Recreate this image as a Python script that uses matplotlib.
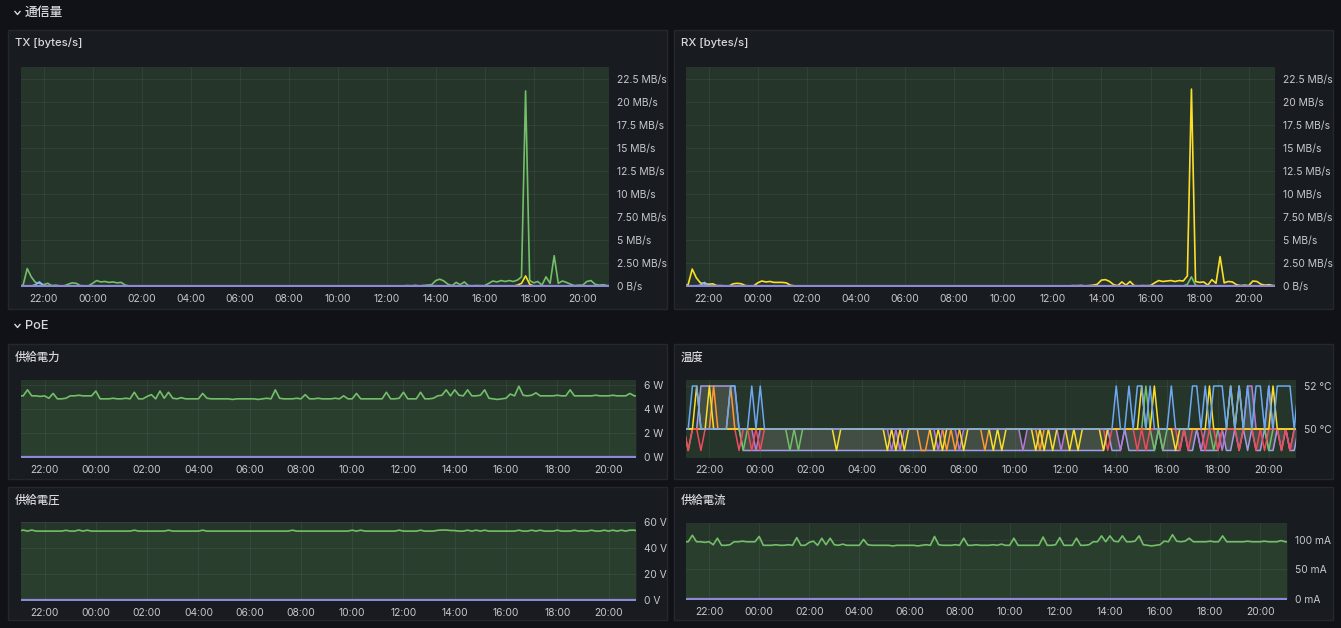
import numpy as np
import matplotlib
matplotlib.use("Agg")
import matplotlib.pyplot as plt
from matplotlib.patches import Rectangle
from matplotlib.lines import Line2D

W, H = 1341, 628
plt.rcParams['font.family'] = ['Inter', 'Noto Sans CJK JP', 'DejaVu Sans']

# ---------------- data (10-minute samples from 21:00 to 21:10 next day) ----------------
hours = 21 + np.arange(146) / 6.0
tick_hours = [22, 24, 26, 28, 30, 32, 34, 36, 38, 40, 42, 44]
tick_labels = ["22:00", "00:00", "02:00", "04:00", "06:00", "08:00",
               "10:00", "12:00", "14:00", "16:00", "18:00", "20:00"]

# TX [MB/s]
tx_green = [0.0, 0.1, 1.9, 1.0, 0.4, 0.3, 0.15, 0.3, 0.05, 0.1, 0.02, 0.02,
            0.2, 0.35, 0.3, 0.05, 0.02, 0.02, 0.3, 0.6, 0.45, 0.5, 0.4, 0.45,
            0.35, 0.4, 0.1, 0.02, 0.01, 0.01, 0.01, 0.01, 0.01, 0.01, 0.01, 0.01,
            0.01, 0.01, 0.01, 0.01, 0.01, 0.01, 0.01, 0.01, 0.01, 0.01, 0.01, 0.01,
            0.01, 0.01, 0.01, 0.01, 0.01, 0.01, 0.01, 0.01, 0.01, 0.01, 0.01, 0.01,
            0.01, 0.01, 0.01, 0.01, 0.01, 0.01, 0.01, 0.01, 0.01, 0.01, 0.01, 0.01,
            0.01, 0.01, 0.01, 0.01, 0.01, 0.01, 0.01, 0.01, 0.01, 0.01, 0.01, 0.01,
            0.01, 0.01, 0.01, 0.01, 0.01, 0.01, 0.01, 0.01, 0.01, 0.01, 0.01, 0.06,
            0.03, 0.08, 0.02, 0.06, 0.1, 0.15, 0.6, 0.75, 0.55, 0.2, 0.05, 0.4,
            0.15, 0.45, 0.05, 0.03, 0.06, 0.04, 0.05, 0.3, 0.55, 0.45, 0.6, 0.5,
            0.6, 0.5, 0.65, 1.0, 21.2, 0.6, 0.35, 0.5, 0.1, 1.0, 0.3, 3.3,
            0.3, 0.55, 0.4, 0.2, 0.05, 0.1, 0.1, 0.5, 0.6, 0.2, 0.1, 0.15,
            0.05, 0.05]
tx_yellow_spike = {122: 0.1, 123: 0.3, 124: 1.1, 125: 0.2}
tx_blue_spike = {4: 0.15, 5: 0.45, 6: 0.05}

# RX [MB/s]
rx_yellow = [0.0, 0.15, 1.85, 0.9, 0.35, 0.25, 0.2, 0.25, 0.05, 0.05, 0.02, 0.02,
             0.25, 0.3, 0.25, 0.05, 0.02, 0.02, 0.35, 0.55, 0.45, 0.5, 0.4, 0.4,
             0.4, 0.35, 0.1, 0.02, 0.01, 0.01, 0.01, 0.01, 0.01, 0.01, 0.01, 0.01,
             0.01, 0.01, 0.01, 0.01, 0.01, 0.01, 0.01, 0.01, 0.01, 0.01, 0.01, 0.01,
             0.01, 0.01, 0.01, 0.01, 0.01, 0.01, 0.01, 0.01, 0.01, 0.01, 0.01, 0.01,
             0.01, 0.01, 0.01, 0.01, 0.01, 0.01, 0.01, 0.01, 0.01, 0.01, 0.01, 0.01,
             0.01, 0.01, 0.01, 0.01, 0.01, 0.01, 0.01, 0.01, 0.01, 0.01, 0.01, 0.01,
             0.01, 0.01, 0.01, 0.01, 0.01, 0.01, 0.01, 0.01, 0.01, 0.01, 0.01, 0.05,
             0.04, 0.07, 0.02, 0.05, 0.1, 0.2, 0.65, 0.7, 0.5, 0.15, 0.05, 0.45,
             0.1, 0.5, 0.05, 0.03, 0.05, 0.04, 0.06, 0.35, 0.6, 0.5, 0.55, 0.6,
             0.5, 0.6, 0.55, 1.1, 21.4, 0.5, 0.4, 0.45, 0.1, 0.7, 0.3, 3.2,
             0.35, 0.5, 0.45, 0.15, 0.05, 0.1, 0.05, 0.55, 0.5, 0.2, 0.1, 0.15,
             0.05, 0.05]
rx_green_spike = {123: 0.2, 124: 1.0, 125: 0.1}
rx_blue_spike = {4: 0.1, 5: 0.4, 6: 0.05}

# 供給電力 [W]
power = [5.1, 5.1, 5.6, 5.1, 5.1, 5.05, 5.1, 4.9, 5.3, 4.85, 4.85, 4.9,
         5.1, 5.1, 5.15, 5.1, 5.1, 5.1, 5.5, 4.85, 4.85, 4.85, 4.9, 4.85,
         4.85, 4.9, 4.85, 5.4, 4.85, 4.85, 5.05, 5.2, 4.85, 5.5, 4.9, 5.4,
         4.9, 4.85, 4.95, 4.85, 4.85, 4.85, 4.85, 5.3, 4.9, 4.85, 4.85, 4.85,
         4.85, 4.85, 4.8, 4.85, 4.85, 4.85, 4.85, 4.85, 4.8, 4.85, 4.9, 4.85,
         5.6, 4.9, 4.85, 4.85, 4.85, 4.9, 4.85, 5.2, 4.85, 4.85, 4.9, 4.85,
         4.85, 4.85, 4.9, 4.85, 5.1, 4.85, 4.85, 5.3, 4.85, 4.85, 4.85, 4.85,
         4.85, 4.85, 5.4, 4.85, 4.85, 4.9, 5.4, 4.85, 4.85, 4.85, 5.4, 4.85,
         4.85, 4.9, 5.1, 5.15, 5.6, 5.1, 5.6, 5.15, 5.1, 5.6, 5.1, 5.1,
         5.15, 5.6, 4.9, 4.85, 4.8, 4.85, 4.9, 5.25, 5.1, 5.9, 5.15, 5.1,
         5.15, 5.35, 5.1, 5.1, 5.1, 5.1, 5.15, 5.1, 5.1, 5.6, 5.1, 5.1,
         5.1, 5.1, 5.1, 5.15, 5.1, 5.1, 5.1, 5.15, 5.1, 5.1, 5.1, 5.3,
         5.1, 5.1]

# 供給電圧 [V]
voltage = [53, 53.8, 53, 53.8, 53, 53, 53, 53, 53, 53, 53, 53.6,
           53, 53, 53.8, 53, 53.7, 53, 53, 53, 53, 53, 53, 53,
           53, 53, 53, 53.7, 53, 53, 53, 53, 53, 53, 53, 53.7,
           53, 53, 53, 53, 53, 53, 53, 53.7, 53, 53, 53, 53,
           53, 53, 53, 53, 53, 53, 53, 53, 53, 53, 53, 53,
           53, 53, 53, 53, 53.7, 53, 53, 53, 53, 53, 53, 53,
           53, 53, 53, 53, 53, 53, 53.7, 53, 53.7, 53, 53, 53,
           53, 53, 53, 53, 53, 53.7, 53, 53, 53, 53, 53.7, 53,
           53, 53, 53.6, 53.8, 53.8, 53.5, 53.4, 53, 53, 53.7, 53, 53.7,
           53, 53.7, 53, 53, 53, 53, 53, 53, 53, 53.7, 53, 53,
           53.7, 53, 53.7, 53, 53, 53, 53.7, 53, 53, 53, 53.7, 53,
           53, 53, 53.7, 53, 53, 53.7, 53, 53.7, 53, 53.7, 53, 53.7,
           53.7, 53]

# 供給電流 [mA]
current = [97, 97, 108, 97, 97, 96, 97, 92, 103, 91, 91, 92,
           97, 97, 98, 97, 97, 97, 106, 91, 91, 91, 92, 91,
           91, 92, 91, 104, 91, 91, 96, 98, 91, 103, 92, 103,
           92, 91, 93, 91, 91, 91, 91, 101, 92, 91, 91, 91,
           91, 91, 90, 91, 91, 91, 91, 91, 90, 91, 92, 91,
           106, 92, 91, 91, 91, 92, 91, 103, 91, 91, 92, 91,
           91, 91, 92, 91, 93, 91, 91, 103, 91, 91, 91, 91,
           91, 91, 105, 91, 91, 92, 104, 91, 91, 91, 103, 91,
           91, 92, 97, 97, 107, 97, 107, 98, 97, 107, 97, 97,
           98, 107, 92, 91, 90, 91, 92, 98, 97, 109, 98, 97,
           98, 103, 97, 97, 97, 97, 98, 97, 97, 107, 97, 97,
           97, 97, 97, 98, 97, 97, 97, 98, 97, 97, 97, 99,
           97, 97]

# 温度 [°C]
temp_lavender = [50, 50, 50, 50, 52, 52, 52, 52, 52, 52, 52, 52,
                 52, 50, 49, 49, 49, 49, 49, 49, 49, 49, 49, 49,
                 49, 49, 49, 49, 49, 49, 49, 49, 49, 49, 49, 49,
                 49, 49, 49, 49, 49, 49, 49, 49, 49, 49, 49, 49,
                 49, 49, 49, 49, 49, 49, 49, 49, 49, 49, 49, 49,
                 49, 49, 49, 49, 49, 49, 49, 49, 49, 49, 49, 49,
                 49, 49, 49, 49, 49, 49, 49, 49, 49, 49, 49, 49,
                 49, 49, 49, 49, 49, 49, 49, 49, 49, 49, 49, 49,
                 49, 49, 49, 49, 50, 49, 49, 49, 50, 49, 49, 49,
                 49, 49, 49, 49, 50, 49, 49, 49, 49, 49, 50, 49,
                 49, 50, 49, 49, 49, 49, 49, 50, 49, 49, 50, 49,
                 50, 49, 50, 49, 49, 50, 49, 49, 50, 49, 50, 49,
                 49, 50]
temp_purple = [50, 50, 50, 50, 50, 50, 50, 50, 50, 50, 50, 50,
               50, 50, 50, 50, 50, 49, 50, 50, 50, 50, 50, 50,
               50, 50, 50, 50, 50, 50, 50, 50, 50, 50, 50, 50,
               50, 50, 50, 50, 50, 50, 50, 50, 50, 50, 50, 50,
               50, 49, 50, 49, 50, 50, 50, 50, 50, 50, 50, 50,
               49, 50, 50, 50, 50, 49, 50, 50, 50, 50, 50, 50,
               50, 50, 50, 50, 50, 50, 50, 50, 49, 50, 50, 50,
               50, 50, 50, 50, 50, 49, 50, 50, 50, 50, 50, 50,
               50, 50, 50, 50, 50, 50, 50, 49, 50, 50, 50, 50,
               50, 50, 50, 50, 50, 50, 50, 50, 50, 50, 50, 50,
               50, 50, 49, 50, 50, 50, 50, 49, 50, 50, 50, 50,
               50, 52, 52, 50, 50, 50, 52, 50, 50, 50, 50, 49,
               50, 50]
temp_green = [50, 49, 50, 50, 50, 50, 50, 50, 50, 50, 50, 50,
              50, 50, 49, 50, 50, 50, 50, 50, 50, 50, 50, 50,
              50, 49, 50, 49, 50, 50, 50, 50, 50, 50, 50, 50,
              50, 50, 50, 50, 50, 50, 50, 50, 50, 50, 50, 50,
              50, 50, 50, 50, 50, 50, 50, 50, 50, 50, 50, 50,
              50, 50, 50, 50, 50, 50, 50, 50, 50, 50, 50, 50,
              50, 50, 50, 50, 50, 50, 50, 50, 50, 50, 50, 50,
              50, 50, 50, 50, 50, 50, 50, 50, 50, 50, 50, 50,
              50, 50, 50, 50, 50, 50, 50, 50, 50, 50, 50, 50,
              50, 52, 50, 49, 50, 49, 50, 50, 50, 50, 50, 50,
              50, 50, 50, 50, 50, 49, 50, 50, 50, 50, 50, 50,
              50, 50, 50, 50, 50, 50, 49, 50, 50, 50, 50, 50,
              50, 50]
temp_orange = [50, 50, 50, 50, 50, 50, 50, 52, 50, 50, 50, 52,
               50, 50, 50, 50, 50, 50, 50, 50, 50, 50, 50, 50,
               50, 50, 50, 50, 50, 50, 50, 50, 50, 50, 50, 50,
               50, 50, 50, 50, 50, 50, 50, 50, 50, 50, 50, 50,
               50, 50, 50, 50, 50, 50, 50, 50, 49, 49, 50, 50,
               50, 50, 49, 50, 49, 50, 50, 50, 50, 50, 50, 49,
               50, 50, 50, 50, 50, 50, 50, 50, 50, 50, 50, 50,
               49, 50, 50, 50, 50, 50, 50, 50, 50, 50, 50, 50,
               50, 50, 50, 50, 50, 50, 50, 50, 50, 50, 50, 50,
               50, 50, 50, 50, 50, 50, 50, 50, 50, 50, 50, 50,
               50, 50, 50, 50, 50, 50, 50, 50, 50, 50, 50, 50,
               50, 50, 50, 50, 50, 50, 50, 50, 50, 50, 50, 50,
               50, 50]
temp_red = [50, 49, 50, 50, 49, 50, 50, 50, 50, 50, 50, 50,
            50, 49, 50, 50, 49, 50, 49, 50, 50, 50, 50, 50,
            50, 50, 50, 50, 50, 50, 50, 50, 50, 50, 50, 50,
            50, 50, 50, 50, 50, 50, 50, 50, 50, 50, 50, 50,
            50, 50, 50, 50, 50, 50, 50, 50, 50, 50, 50, 50,
            50, 50, 50, 50, 50, 50, 50, 50, 50, 50, 50, 50,
            50, 50, 50, 50, 50, 50, 50, 50, 50, 50, 50, 50,
            50, 50, 50, 50, 50, 50, 50, 50, 50, 50, 50, 50,
            50, 50, 50, 50, 49, 50, 50, 50, 50, 50, 50, 49,
            50, 49, 50, 50, 50, 50, 50, 50, 50, 49, 50, 49,
            50, 50, 50, 49, 50, 50, 49, 50, 50, 50, 50, 49,
            50, 50, 50, 49, 50, 49, 50, 50, 50, 49, 50, 49,
            50, 50]
temp_yellow = [50, 50, 50, 52, 50, 50, 52, 50, 50, 50, 50, 50,
               50, 50, 50, 50, 50, 50, 50, 50, 50, 50, 50, 50,
               50, 50, 50, 50, 50, 50, 50, 50, 50, 50, 50, 50,
               49, 50, 50, 50, 50, 50, 50, 50, 50, 50, 50, 50,
               49, 50, 49, 50, 49, 50, 50, 50, 50, 50, 50, 49,
               50, 49, 50, 50, 50, 50, 49, 50, 50, 50, 50, 50,
               50, 49, 50, 49, 50, 50, 50, 50, 50, 50, 50, 49,
               50, 49, 50, 49, 50, 50, 50, 49, 50, 49, 50, 50,
               50, 50, 50, 49, 50, 50, 50, 50, 50, 50, 50, 50,
               52, 50, 50, 52, 50, 50, 50, 50, 49, 50, 50, 50,
               50, 50, 50, 50, 52, 50, 50, 50, 50, 52, 50, 52,
               50, 50, 50, 50, 50, 50, 50, 52, 50, 50, 50, 50,
               50, 50]
temp_blue = [50, 50, 52, 52, 50, 50, 50, 50, 50, 50, 50, 52,
             52, 50, 50, 50, 52, 50, 52, 50, 50, 50, 50, 50,
             50, 50, 50, 50, 50, 50, 50, 50, 50, 50, 50, 50,
             50, 50, 50, 50, 50, 50, 50, 50, 50, 50, 50, 50,
             50, 50, 50, 50, 50, 50, 50, 50, 50, 50, 50, 50,
             50, 50, 50, 50, 50, 50, 50, 50, 50, 50, 50, 50,
             50, 50, 50, 50, 50, 50, 50, 50, 50, 50, 50, 50,
             50, 50, 50, 50, 50, 50, 50, 50, 50, 50, 50, 50,
             50, 50, 50, 50, 50, 50, 52, 50, 50, 52, 50, 52,
             52, 50, 52, 50, 50, 50, 50, 52, 50, 50, 50, 50,
             52, 52, 50, 52, 50, 52, 52, 52, 50, 52, 50, 52,
             50, 52, 50, 52, 52, 50, 52, 50, 52, 52, 52, 52,
             50, 52]

# ---------------- style ----------------
PAGE_BG = '#111217'
PANEL_BG = '#181b1f'
PANEL_EDGE = '#24272d'
PLOT_BG = '#25352a'
TICK_C = '#c7c8d2'
TITLE_C = '#d8d9e0'
C_GREEN = '#73BF69'
C_YELLOW = '#FADE2A'
C_LBLUE = '#8AB8FF'
C_BLUE = '#6DA8F2'
C_ORANGE = '#FF9830'
C_RED = '#F2495C'
C_PURPLE = '#B877D9'
C_LAV = '#A39BE8'
C_ZERO = '#8E88D8'
XLIM = (21.08, 45.07)

fig = plt.figure(figsize=(W / 100, H / 100), dpi=100, facecolor=PAGE_BG)


def fx(x):
    return x / W


def fy(y):
    return 1 - y / H


def panel(x0, y0, x1, y1, title):
    fig.add_artist(Rectangle((fx(x0), fy(y1)), (x1 - x0) / W, (y1 - y0) / H,
                             transform=fig.transFigure, facecolor=PANEL_BG,
                             edgecolor=PANEL_EDGE, lw=1.0, zorder=0))
    fig.text(fx(x0 + 7), fy(y0 + 13), title, color=TITLE_C, fontsize=8.2,
             fontweight='medium', va='center', ha='left')


def axes_px(x0, y0, x1, y1):
    return fig.add_axes([fx(x0), fy(y1), (x1 - x0) / W, (y1 - y0) / H])


def style(ax, ylim, yticks, ylabels):
    ax.set_facecolor(PLOT_BG)
    ax.set_xlim(*XLIM)
    ax.set_ylim(*ylim)
    ax.set_xticks(tick_hours)
    ax.set_xticklabels(tick_labels)
    ax.set_yticks(yticks)
    ax.set_yticklabels(ylabels)
    ax.yaxis.tick_right()
    ax.tick_params(axis='both', length=0, labelsize=7.4, colors=TICK_C)
    ax.tick_params(axis='x', pad=5)
    ax.tick_params(axis='y', pad=6)
    for s in ax.spines.values():
        s.set_visible(False)
    ax.grid(True, color='white', alpha=0.06, lw=0.8)
    ax.set_axisbelow(True)


def spike_series(spikes):
    return [spikes.get(i, 0.0) for i in range(len(hours))]


def row_header(y, text):
    fig.add_artist(Line2D([fx(15), fx(17.5), fx(20)], [fy(y - 1.5), fy(y + 1.5), fy(y - 1.5)],
                          transform=fig.transFigure, color=TITLE_C, lw=1.0))
    fig.text(fx(25), fy(y), text, color=TITLE_C, fontsize=9.2, fontweight='medium',
             va='center', ha='left')


row_header(13, "通信量")
row_header(326, "PoE")

# ---- TX ----
panel(8, 30, 667, 309, "TX [bytes/s]")
ax = axes_px(21, 67, 609, 287)
mb_ticks = [0, 2.5, 5, 7.5, 10, 12.5, 15, 17.5, 20, 22.5]
mb_labels = ["0 B/s", "2.50 MB/s", "5 MB/s", "7.50 MB/s", "10 MB/s",
             "12.5 MB/s", "15 MB/s", "17.5 MB/s", "20 MB/s", "22.5 MB/s"]
style(ax, (-0.1, 23.8), mb_ticks, mb_labels)
ax.plot(hours, tx_green, color=C_GREEN, lw=1.2)
ax.plot(hours, spike_series(tx_yellow_spike), color=C_YELLOW, lw=1.2)
ax.plot(hours, spike_series(tx_blue_spike), color=C_LBLUE, lw=1.2)
ax.plot(hours, spike_series({}), color=C_ZERO, lw=1.6)

# ---- RX ----
panel(674, 30, 1333, 309, "RX [bytes/s]")
ax = axes_px(686, 67, 1275, 287)
style(ax, (-0.1, 23.8), mb_ticks, mb_labels)
ax.plot(hours, rx_yellow, color=C_YELLOW, lw=1.2)
ax.plot(hours, spike_series(rx_green_spike), color=C_GREEN, lw=1.2)
ax.plot(hours, spike_series(rx_blue_spike), color=C_LBLUE, lw=1.2)
ax.plot(hours, spike_series({}), color=C_ZERO, lw=1.6)

# ---- 供給電力 ----
panel(8, 344, 667, 479, "供給電力")
ax = axes_px(21, 380, 636, 458)
style(ax, (-0.08, 6.42), [0, 2, 4, 6], ["0 W", "2 W", "4 W", "6 W"])
ax.fill_between(hours, 0, power, color=C_GREEN, alpha=0.07, lw=0)
ax.plot(hours, power, color=C_GREEN, lw=1.2)
ax.plot(hours, spike_series({}), color=C_ZERO, lw=1.6)

# ---- 温度 ----
panel(674, 344, 1333, 479, "温度")
ax = axes_px(686, 380, 1296, 458)
style(ax, (48.65, 52.28), [50, 52], ["50 °C", "52 °C"])
ax.fill_between(hours, temp_lavender, temp_purple, color='#9a9a92', alpha=0.25, lw=0)
for vals, col in [(temp_lavender, C_LAV), (temp_purple, C_PURPLE), (temp_green, C_GREEN),
                  (temp_orange, C_ORANGE), (temp_red, C_RED), (temp_yellow, C_YELLOW),
                  (temp_blue, C_BLUE)]:
    ax.plot(hours, vals, color=col, lw=1.1)

# ---- 供給電圧 ----
panel(8, 487, 667, 620, "供給電圧")
ax = axes_px(21, 522, 636, 601)
style(ax, (-0.77, 60), [0, 20, 40, 60], ["0 V", "20 V", "40 V", "60 V"])
ax.fill_between(hours, 0, voltage, color=C_GREEN, alpha=0.07, lw=0)
ax.plot(hours, voltage, color=C_GREEN, lw=1.2)
ax.plot(hours, spike_series({}), color=C_ZERO, lw=1.6)

# ---- 供給電流 ----
panel(674, 487, 1333, 620, "供給電流")
ax = axes_px(686, 523, 1287, 600)
style(ax, (-1.7, 128.8), [0, 50, 100], ["0 mA", "50 mA", "100 mA"])
ax.fill_between(hours, 0, current, color=C_GREEN, alpha=0.07, lw=0)
ax.plot(hours, current, color=C_GREEN, lw=1.2)
ax.plot(hours, spike_series({}), color=C_ZERO, lw=1.6)

fig.savefig("out.png", dpi=100, facecolor=PAGE_BG)
